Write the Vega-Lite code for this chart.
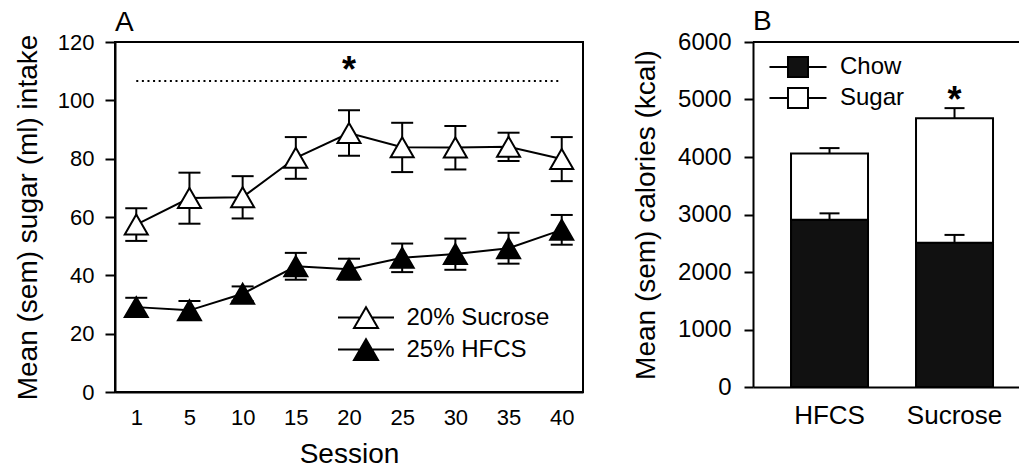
{
  "$schema": "https://vega.github.io/schema/vega-lite/v6.json",
  "background": "white",
  "padding": {"left": 13, "top": 8, "right": 0, "bottom": 0},
  "config": {
    "font": "Liberation Sans",
    "view": {"stroke": null},
    "axis": {"grid": false, "domainColor": "black", "domainWidth": 2, "tickColor": "black", "tickWidth": 2, "labelColor": "black", "titleColor": "black", "titleFontWeight": "normal", "labelFont": "Liberation Sans", "titleFont": "Liberation Sans"},
    "title": {"font": "Liberation Sans", "fontWeight": "normal", "fontSize": 28, "anchor": "start", "frame": "group", "color": "black", "baseline": "alphabetic", "offset": -6},
    "legend": {"orient": "none", "title": null, "padding": 0, "rowPadding": 0, "labelFont": "Liberation Sans", "labelColor": "black", "labelFontSize": 24, "symbolStrokeColor": "black", "symbolStrokeWidth": 2}
  },
  "datasets": {
    "intake": [
      {"session": 1, "series": "20% Sucrose", "mean": 57.4, "lo": 51.8, "hi": 63.0},
      {"session": 5, "series": "20% Sucrose", "mean": 66.5, "lo": 57.7, "hi": 75.2},
      {"session": 10, "series": "20% Sucrose", "mean": 66.8, "lo": 59.5, "hi": 74.0},
      {"session": 15, "series": "20% Sucrose", "mean": 80.3, "lo": 73.1, "hi": 87.4},
      {"session": 20, "series": "20% Sucrose", "mean": 88.8, "lo": 81.0, "hi": 96.6},
      {"session": 25, "series": "20% Sucrose", "mean": 83.9, "lo": 75.4, "hi": 92.3},
      {"session": 30, "series": "20% Sucrose", "mean": 83.8, "lo": 76.3, "hi": 91.2},
      {"session": 35, "series": "20% Sucrose", "mean": 84.1, "lo": 79.2, "hi": 88.9},
      {"session": 40, "series": "20% Sucrose", "mean": 79.9, "lo": 72.3, "hi": 87.4},
      {"session": 1, "series": "25% HFCS", "mean": 29.1, "lo": 25.9, "hi": 32.3},
      {"session": 5, "series": "25% HFCS", "mean": 28.0, "lo": 24.8, "hi": 31.2},
      {"session": 10, "series": "25% HFCS", "mean": 33.7, "lo": 31.2, "hi": 36.2},
      {"session": 15, "series": "25% HFCS", "mean": 43.1, "lo": 38.5, "hi": 47.7},
      {"session": 20, "series": "25% HFCS", "mean": 42.1, "lo": 38.5, "hi": 45.7},
      {"session": 25, "series": "25% HFCS", "mean": 46.0, "lo": 41.1, "hi": 50.9},
      {"session": 30, "series": "25% HFCS", "mean": 47.3, "lo": 41.9, "hi": 52.6},
      {"session": 35, "series": "25% HFCS", "mean": 49.3, "lo": 44.0, "hi": 54.6},
      {"session": 40, "series": "25% HFCS", "mean": 55.6, "lo": 50.5, "hi": 60.7}
    ],
    "calories": [
      {"group": "HFCS", "component": "Chow", "kcal": 2910},
      {"group": "HFCS", "component": "Sugar", "kcal": 1150},
      {"group": "Sucrose", "component": "Chow", "kcal": 2510},
      {"group": "Sucrose", "component": "Sugar", "kcal": 2165}
    ],
    "calerr": [
      {"group": "HFCS", "part": "Chow", "top": 2910, "hi": 3020},
      {"group": "HFCS", "part": "Total", "top": 4060, "hi": 4155},
      {"group": "Sucrose", "part": "Chow", "top": 2510, "hi": 2645},
      {"group": "Sucrose", "part": "Total", "top": 4675, "hi": 4850}
    ]
  },
  "spacing": 48,
  "resolve": {"scale": {"fill": "independent"}, "legend": {"fill": "independent"}},
  "hconcat": [
    {
      "width": 468,
      "height": 350,
      "view": {"stroke": "black", "strokeWidth": 2},
      "title": {"text": "A"},
      "encoding": {
        "x": {"field": "session", "type": "ordinal", "scale": {"type": "point", "padding": 0.4},
              "axis": {"title": "Session", "ticks": false, "tickSize": 0, "labelPadding": 15, "labelFontSize": 22, "titleFontSize": 28, "titlePadding": 12, "labelAngle": 0}}
      },
      "layer": [
        {
          "data": {"name": "intake"},
          "mark": {"type": "rule", "color": "black", "strokeWidth": 2},
          "encoding": {
            "y": {"field": "lo", "type": "quantitative", "title": "Mean (sem) sugar (ml) intake", "scale": {"domain": [0, 120], "nice": false},
                  "axis": {"values": [0, 20, 40, 60, 80, 100, 120], "tickSize": 10, "labelPadding": 11, "labelFontSize": 22, "titleFontSize": 28, "titlePadding": 15}},
            "y2": {"field": "hi"}
          }
        },
        {
          "data": {"name": "intake"},
          "mark": {"type": "tick", "color": "black", "thickness": 2, "size": 22, "orient": "horizontal", "opacity": 1},
          "encoding": {
            "y": {"field": "lo", "type": "quantitative", "title": "Mean (sem) sugar (ml) intake"}
          }
        },
        {
          "data": {"name": "intake"},
          "mark": {"type": "tick", "color": "black", "thickness": 2, "size": 22, "orient": "horizontal", "opacity": 1},
          "encoding": {
            "y": {"field": "hi", "type": "quantitative", "title": "Mean (sem) sugar (ml) intake"}
          }
        },
        {
          "data": {"name": "intake"},
          "mark": {"type": "line", "color": "black", "strokeWidth": 2},
          "encoding": {
            "y": {"field": "mean", "type": "quantitative", "title": "Mean (sem) sugar (ml) intake"},
            "detail": {"field": "series", "type": "nominal"}
          }
        },
        {
          "data": {"name": "intake"},
          "mark": {"type": "point", "shape": "triangle-up", "size": 530, "filled": true, "stroke": "black", "strokeWidth": 2, "opacity": 1},
          "encoding": {
            "y": {"field": "mean", "type": "quantitative", "title": "Mean (sem) sugar (ml) intake"},
            "fill": {"field": "series", "type": "nominal",
                     "scale": {"domain": ["20% Sucrose", "25% HFCS"], "range": ["white", "black"]},
                     "legend": {"legendX": 234, "legendY": 258.6, "symbolType": "M-1.75,0H-0.375M0.375,0H1.75M0,-0.65L0.75,0.65L-0.75,0.65Z", "symbolSize": 1024, "labelOffset": 23.5, "symbolOpacity": 1,
                                "encode": {"symbols": {"update": {"stroke": {"value": "black"}, "strokeWidth": {"value": 2}}}}}}
          }
        },
        {
          "data": {"values": [{}]},
          "mark": {"type": "rule", "color": "black", "strokeWidth": 2, "strokeDash": [2, 3.6]},
          "encoding": {
            "x": {"datum": 1},
            "x2": {"datum": 40},
            "y": {"datum": 106.6}
          }
        },
        {
          "data": {"values": [{}]},
          "mark": {"type": "text", "text": "*", "fontSize": 36, "fontWeight": "bold", "baseline": "alphabetic", "align": "center", "color": "black"},
          "encoding": {
            "x": {"datum": 20},
            "y": {"datum": 106.4}
          }
        }
      ]
    },
    {
      "width": 266,
      "height": 345,
      "title": {"text": "B"},
      "encoding": {
        "x": {"field": "group", "type": "nominal", "sort": ["HFCS", "Sucrose"],
              "scale": {"paddingInner": 0.384, "paddingOuter": 0.256, "align": 0.594},
              "axis": {"title": null, "ticks": false, "tickSize": 0, "labelPadding": 15, "labelFontSize": 26, "labelAngle": 0}}
      },
      "layer": [
        {
          "data": {"name": "calories"},
          "mark": {"type": "bar", "stroke": "black", "strokeWidth": 2},
          "encoding": {
            "y": {"field": "kcal", "type": "quantitative", "stack": "zero", "title": "Mean (sem) calories (kcal)",
                  "scale": {"domain": [0, 6000], "nice": false},
                  "axis": {"values": [0, 1000, 2000, 3000, 4000, 5000, 6000], "format": "d", "tickSize": 9, "labelPadding": 13, "labelFontSize": 24, "titleFontSize": 28, "titlePadding": 17}},
            "fill": {"field": "component", "type": "nominal",
                     "scale": {"domain": ["Chow", "Sugar"], "range": ["#111111", "white"]},
                     "legend": {"legendX": 29, "legendY": 9, "symbolType": "M-1.9,0H-0.667M0.667,0H1.9M-0.667,-0.667H0.667V0.667H-0.667Z", "symbolSize": 900, "labelOffset": 26, "symbolOpacity": 1,
                                "encode": {"symbols": {"update": {"stroke": {"value": "black"}, "strokeWidth": {"value": 2}}}}}},
            "order": {"field": "component", "type": "nominal", "sort": "ascending"}
          }
        },
        {
          "data": {"name": "calerr"},
          "mark": {"type": "rule", "color": "black", "strokeWidth": 2},
          "encoding": {
            "y": {"field": "top", "type": "quantitative", "title": "Mean (sem) calories (kcal)"},
            "y2": {"field": "hi"}
          }
        },
        {
          "data": {"name": "calerr"},
          "mark": {"type": "tick", "color": "black", "thickness": 2, "size": 20, "orient": "horizontal", "opacity": 1},
          "encoding": {
            "y": {"field": "hi", "type": "quantitative", "title": "Mean (sem) calories (kcal)"}
          }
        },
        {
          "data": {"values": [{}]},
          "mark": {"type": "rule", "color": "black", "strokeWidth": 2},
          "encoding": {
            "x": null,
            "y": {"datum": 6000}
          }
        },
        {
          "data": {"values": [{}]},
          "mark": {"type": "text", "text": "*", "fontSize": 36, "fontWeight": "bold", "baseline": "alphabetic", "align": "center", "color": "black"},
          "encoding": {
            "x": {"datum": "Sucrose"},
            "y": {"datum": 4785}
          }
        }
      ]
    }
  ]
}
